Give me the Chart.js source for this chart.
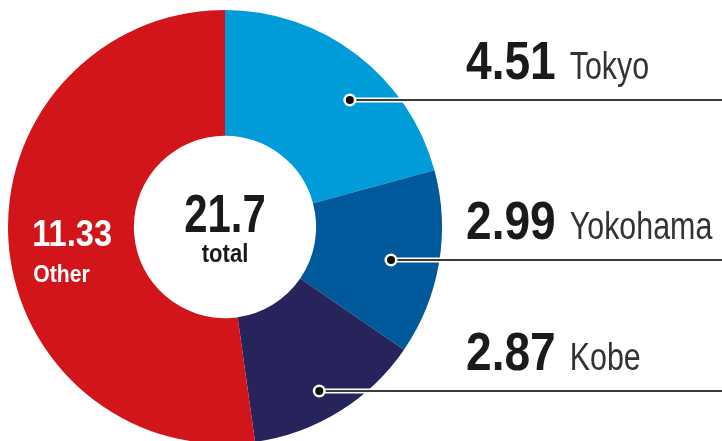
<!DOCTYPE html>
<html>
<head>
<meta charset="utf-8">
<script src="https://cdn.jsdelivr.net/npm/chart.js@4/dist/chart.umd.min.js"></script>
<style>
  html, body { margin: 0; padding: 0; background: #fff; }
  #wrap { width: 722px; height: 441px; overflow: hidden; position: relative; }
  canvas { display: block; }
</style>
</head>
<body>
<div id="wrap"><canvas id="c" width="722" height="460"></canvas></div>
<script>
const categories = ['Tokyo', 'Yokohama', 'Kobe', 'Other'];
const values = [4.51, 2.99, 2.87, 11.33];
const valueLabels = ['4.51', '2.99', '2.87', '11.33'];
const totalLabel = '21.7';
const totalCaption = 'total';
const colors = ['#009cda', '#00599b', '#27245c', '#d1151b'];

// callout placement (fraction along slice angle, fraction across ring)
const calloutAngleFrac = [0.595, 0.53, 0.54];
const calloutRadiusFrac = [0.69, 0.62, 0.78];

const FONT = "'Liberation Sans', Arial, sans-serif";

// draw horizontally condensed text; returns drawn width
function condText(ctx, text, x, y, font, sx, align) {
  ctx.save();
  ctx.font = font;
  const w = ctx.measureText(text).width * sx;
  let left = x;
  if (align === 'center') left = x - w / 2;
  else if (align === 'right') left = x - w;
  ctx.translate(left, y);
  ctx.scale(sx, 1);
  ctx.textAlign = 'left';
  ctx.textBaseline = 'alphabetic';
  ctx.fillText(text, 0, 0);
  ctx.restore();
  return w;
}

const labelPlugin = {
  id: 'labels',
  afterDraw(chart) {
    const ctx = chart.ctx;
    const meta = chart.getDatasetMeta(0);
    const W = chart.width;
    ctx.save();
    const a0 = meta.data[0];
    const cx = a0.x, cy = a0.y;
    ctx.fillStyle = '#1a1a1a';
    condText(ctx, totalLabel, cx, cy + 5, 'bold 53px ' + FONT, 0.79, 'center');
    condText(ctx, totalCaption, cx, cy + 35, 'bold 26px ' + FONT, 0.85, 'center');

    for (let i = 0; i < 3; i++) {
      const arc = meta.data[i];
      const ang = arc.startAngle + (arc.endAngle - arc.startAngle) * calloutAngleFrac[i];
      const r = arc.innerRadius + (arc.outerRadius - arc.innerRadius) * calloutRadiusFrac[i];
      const px = arc.x + r * Math.cos(ang);
      const py = Math.round(arc.y + r * Math.sin(ang));
      ctx.lineCap = 'butt';
      ctx.strokeStyle = '#ffffff';
      ctx.lineWidth = 5;
      ctx.beginPath(); ctx.moveTo(px, py); ctx.lineTo(W, py); ctx.stroke();
      ctx.strokeStyle = '#3a3a3a';
      ctx.lineWidth = 2;
      ctx.beginPath(); ctx.moveTo(px, py); ctx.lineTo(W, py); ctx.stroke();
      ctx.fillStyle = '#ffffff';
      ctx.beginPath(); ctx.arc(px, py, 6.5, 0, Math.PI * 2); ctx.fill();
      ctx.fillStyle = '#111111';
      ctx.beginPath(); ctx.arc(px, py, 4, 0, Math.PI * 2); ctx.fill();
      const tx = 466;
      const base = py - 21;
      ctx.fillStyle = '#1a1a1a';
      const w = condText(ctx, valueLabels[i], tx, base, 'bold 53px ' + FONT, 0.87, 'left');
      ctx.fillStyle = '#333333';
      condText(ctx, categories[i], tx + w + 14, base, '38px ' + FONT, 0.8, 'left');
    }

    const o = meta.data[3];
    const oa = (o.startAngle + o.endAngle) / 2;
    const orr = (o.innerRadius + o.outerRadius) / 2;
    const ox = o.x + orr * Math.cos(oa);
    const oy = o.y + orr * Math.sin(oa);
    ctx.fillStyle = '#ffffff';
    condText(ctx, valueLabels[3], ox - 39, oy + 8, 'bold 37px ' + FONT, 0.88, 'left');
    condText(ctx, categories[3], ox - 38, oy + 44, 'bold 23px ' + FONT, 0.92, 'left');
    ctx.restore();
  }
};

new Chart(document.getElementById('c'), {
  type: 'doughnut',
  data: {
    labels: categories,
    datasets: [{
      data: values,
      backgroundColor: colors,
      borderWidth: 0
    }]
  },
  options: {
    responsive: false,
    animation: false,
    events: [],
    cutout: '42%',
    layout: { padding: { left: 8, right: 280, top: 10, bottom: 16 } },
    plugins: { legend: { display: false }, tooltip: { enabled: false } }
  },
  plugins: [labelPlugin]
});
</script>
</body>
</html>
